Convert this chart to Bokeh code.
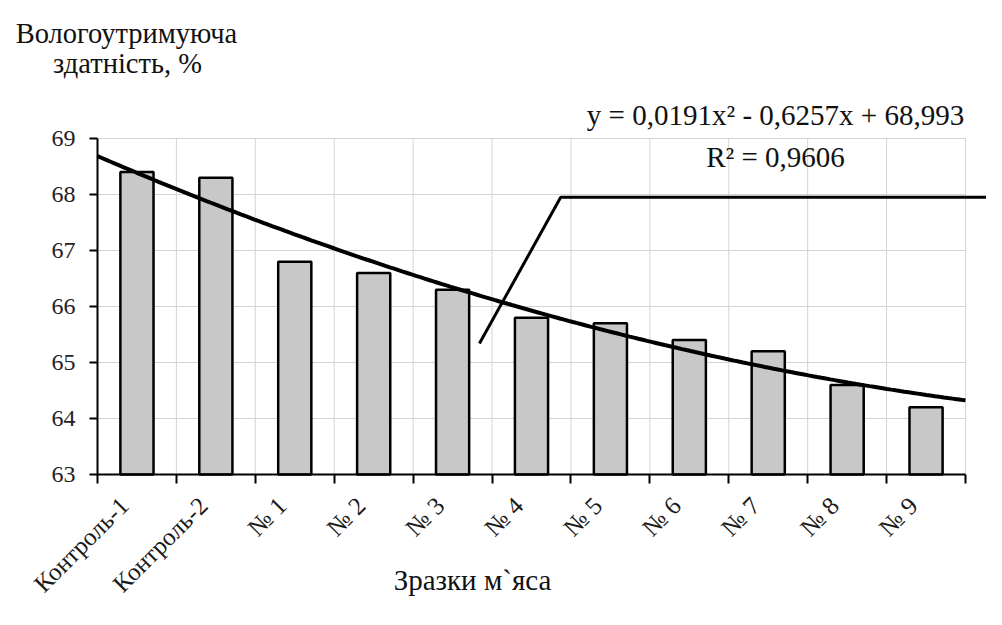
import numpy as np
from math import pi
from bokeh.plotting import figure
from bokeh.models import Range1d, FixedTicker, Label, ColumnDataSource
from bokeh.embed import file_html
from bokeh.resources import INLINE

# ---- data ----
categories = ["Контроль-1", "Контроль-2", "№ 1", "№ 2", "№ 3", "№ 4",
              "№ 5", "№ 6", "№ 7", "№ 8", "№ 9"]
values = [68.4, 68.3, 66.8, 66.6, 66.3, 65.8, 65.7, 65.4, 65.2, 64.6, 64.2]
y_ticks = [63, 64, 65, 66, 67, 68, 69]
trend_coef = [0.0191, -0.6257, 68.993]
equation_text = "y = 0,0191x² - 0,6257x + 68,993"
r2_text = "R² = 0,9606"
y_title = ["Вологоутримуюча", "здатність, %"]
x_title = "Зразки м`яса"
callout_x = [5.34, 6.37, 12.0]
callout_y = [65.34, 67.95, 67.95]

FONT = "Liberation Serif"
n = len(categories)
xs = list(range(1, n + 1))
bounds = [i + 0.5 for i in range(0, n + 1)]
label_pos = [round(x - 0.16, 2) for x in xs]
x_lo, x_hi = 0.5, n + 0.5
y_lo, y_hi = y_ticks[0], y_ticks[-1]

W, H = 986, 609
FL, FR, FT, FB = 97, 965, 138, 474      # plot area in pixels
ux = (FR - FL) / (x_hi - x_lo)
uy = (FB - FT) / (y_hi - y_lo)

p = figure(width=W, height=H, output_backend="svg", toolbar_location=None,
           x_range=Range1d(x_lo - FL / ux, x_lo + (W - FL) / ux),
           y_range=Range1d(y_lo - (H - FB) / uy, y_hi + FT / uy),
           min_border=0, min_border_left=0, min_border_right=0,
           min_border_top=0, min_border_bottom=0)
p.outline_line_color = None
p.background_fill_color = "white"
p.border_fill_color = "white"
p.xgrid.visible = False
p.ygrid.visible = False

GRID = "#d4d4d4"
# vertical grid lines at category boundaries
p.segment(x0=bounds[1:], x1=bounds[1:], y0=[y_lo] * n, y1=[y_hi] * n,
          line_color=GRID, line_width=1)
# horizontal grid lines at y ticks
p.segment(x0=[x_lo] * (len(y_ticks) - 1), x1=[x_hi] * (len(y_ticks) - 1),
          y0=y_ticks[1:], y1=y_ticks[1:], line_color=GRID, line_width=1)

# bars
src = ColumnDataSource(dict(x=xs, top=values, cat=categories))
p.vbar(x="x", top="top", bottom=y_lo, width=0.42, source=src,
       fill_color="#c8c8c8", line_color="black", line_width=2.5)

# trend
tx = np.linspace(x_lo, x_hi, 200)
ty = np.polyval(trend_coef, tx)
p.line(tx, ty, line_color="black", line_width=4)

# callout
p.line(callout_x, callout_y, line_color="black", line_width=3)

# axes
xa = p.xaxis[0]
xa.fixed_location = y_lo
xa.bounds = (x_lo, x_hi)
xa.ticker = FixedTicker(ticks=label_pos, minor_ticks=bounds)
xa.major_label_overrides = {x: c for x, c in zip(label_pos, categories)}
xa.major_label_orientation = pi / 4
xa.major_tick_line_color = None
xa.major_tick_in = 0
xa.major_tick_out = 0
xa.minor_tick_in = 0
xa.minor_tick_out = 9
xa.minor_tick_line_width = 2
xa.minor_tick_line_color = "black"
xa.axis_line_width = 2
xa.axis_line_color = "black"
xa.major_label_text_font = FONT
xa.major_label_text_font_size = "25px"
xa.major_label_text_color = "#1a1a1a"
xa.major_label_standoff = 18

ya = p.yaxis[0]
ya.fixed_location = x_lo
ya.bounds = (y_lo, y_hi)
ya.ticker = FixedTicker(ticks=y_ticks)
ya.minor_tick_line_color = None
ya.major_tick_in = 0
ya.major_tick_out = 8
ya.major_tick_line_width = 2
ya.axis_line_width = 2
ya.axis_line_color = "black"
ya.major_label_text_font = FONT
ya.major_label_text_font_size = "24px"
ya.major_label_text_color = "#222222"
ya.major_label_standoff = 14


def lab(text, px, py, size, align="center"):
    p.add_layout(Label(x=x_lo + (px - FL) / ux, y=y_hi - (py - FT) / uy,
                       text=text, text_font=FONT, text_font_size=size,
                       text_align=align, text_baseline="alphabetic",
                       text_color="#111111"))


lab(y_title[0], 126, 33, "28.5px")
lab(y_title[1], 127, 63, "28.5px")
lab(equation_text, 775, 114, "29px")
lab(r2_text, 775, 156, "29px")
lab(x_title, 472, 579, "29px")

open("out.html", "w").write(file_html(p, INLINE))
